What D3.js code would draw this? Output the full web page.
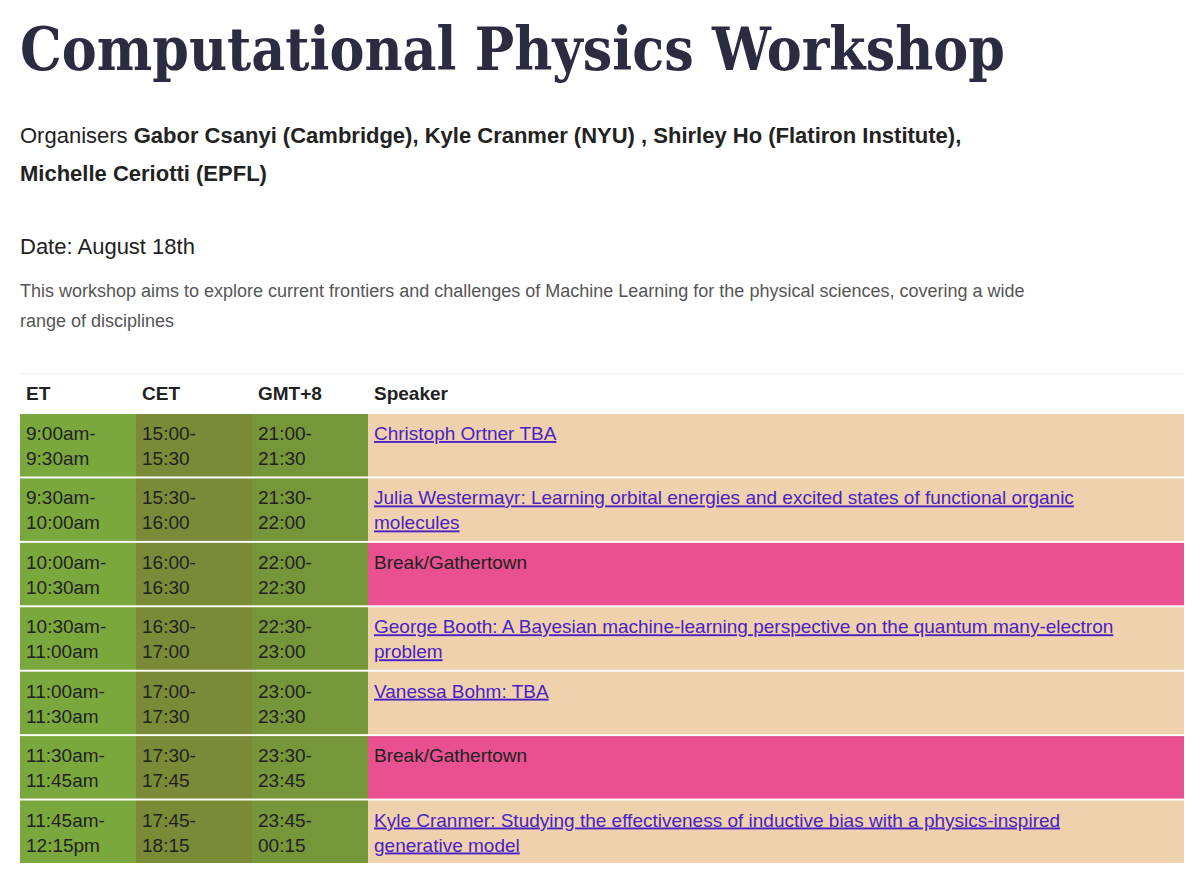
<!DOCTYPE html><html><head><meta charset="utf-8"><script src="https://cdn.jsdelivr.net/npm/d3@7"></script>
<style>body{margin:0;background:#fff}</style></head><body><svg id="c" width="1200" height="890"></svg>
<script>
const columns=["ET","CET","GMT+8","Speaker"];
const et=[["9:00am-","9:30am"],["9:30am-","10:00am"],["10:00am-","10:30am"],["10:30am-","11:00am"],["11:00am-","11:30am"],["11:30am-","11:45am"],["11:45am-","12:15pm"]];
const cet=[["15:00-","15:30"],["15:30-","16:00"],["16:00-","16:30"],["16:30-","17:00"],["17:00-","17:30"],["17:30-","17:45"],["17:45-","18:15"]];
const gmt8=[["21:00-","21:30"],["21:30-","22:00"],["22:00-","22:30"],["22:30-","23:00"],["23:00-","23:30"],["23:30-","23:45"],["23:45-","00:15"]];
const speakers=[["Christoph Ortner TBA"],["Julia Westermayr: Learning orbital energies and excited states of functional organic","molecules"],["Break/Gathertown"],["George Booth: A Bayesian machine-learning perspective on the quantum many-electron","problem"],["Vanessa Bohm: TBA"],["Break/Gathertown"],["Kyle Cranmer: Studying the effectiveness of inductive bias with a physics-inspired","generative model"]];
const isBreak=[false,false,true,false,false,true,false];

const svg=d3.select("#c");
const F="Liberation Sans, Arial, sans-serif";
svg.append("text").attr("x",20).attr("y",70).attr("font-family","DejaVu Serif").attr("font-weight","bold")
 .attr("font-size",60).attr("fill","#2b2b42").attr("textLength",985).attr("lengthAdjust","spacingAndGlyphs").text("Computational Physics Workshop");
const o=svg.append("text").attr("x",20).attr("y",143).attr("font-family",F).attr("font-size",22).attr("fill","#222");
o.append("tspan").text("Organisers ");
o.append("tspan").attr("font-weight","bold").text("Gabor Csanyi (Cambridge), Kyle Cranmer (NYU) , Shirley Ho (Flatiron Institute),");
svg.append("text").attr("x",20).attr("y",181).attr("font-family",F).attr("font-size",22).attr("font-weight","bold").attr("fill","#222").text("Michelle Ceriotti (EPFL)");
svg.append("text").attr("x",20).attr("y",254).attr("font-family",F).attr("font-size",22).attr("fill","#222").text("Date: August 18th");
svg.append("text").attr("x",20).attr("y",297).attr("font-family",F).attr("font-size",18).attr("fill","#555").text("This workshop aims to explore current frontiers and challenges of Machine Learning for the physical sciences, covering a wide");
svg.append("text").attr("x",20).attr("y",327).attr("font-family",F).attr("font-size",18).attr("fill","#555").text("range of disciplines");

const x=d3.scaleOrdinal().domain(columns).range([20,136,252,368]);
const xEnd={"ET":136,"CET":252,"GMT+8":368,"Speaker":1184};
const y=d3.scaleBand().domain(d3.range(7)).range([414,863]).paddingInner(0.03);
svg.append("line").attr("x1",20).attr("x2",1184).attr("y1",374).attr("y2",374).attr("stroke","#eee");
svg.selectAll(".h").data(columns).join("text").attr("x",d=>x(d)+6).attr("y",400).attr("font-family",F)
 .attr("font-size",19).attr("font-weight","bold").attr("fill","#222").text(d=>d);
const colData={"ET":et,"CET":cet,"GMT+8":gmt8,"Speaker":speakers};
const colColor={"ET":"#7ba83c","CET":"#7a8a37","GMT+8":"#76963a"};
columns.forEach(c=>{
 const g=svg.append("g");
 g.selectAll("rect").data(colData[c]).join("rect").attr("x",x(c)).attr("width",xEnd[c]-x(c))
  .attr("y",(d,i)=>y(i)).attr("height",y.bandwidth())
  .attr("fill",(d,i)=>c==="Speaker"?(isBreak[i]?"#e9508f":"#efd1ae"):colColor[c]);
 colData[c].forEach((lines,i)=>{
  const link=c==="Speaker"&&!isBreak[i];
  lines.forEach((t,k)=>{
   g.append("text").attr("x",x(c)+6).attr("y",y(i)+26+k*25).attr("font-family",F).attr("font-size",19)
    .attr("fill",link?"#4a22c4":"#222").attr("text-decoration",link?"underline":null).text(t);
  });
 });
});
</script></body></html>
